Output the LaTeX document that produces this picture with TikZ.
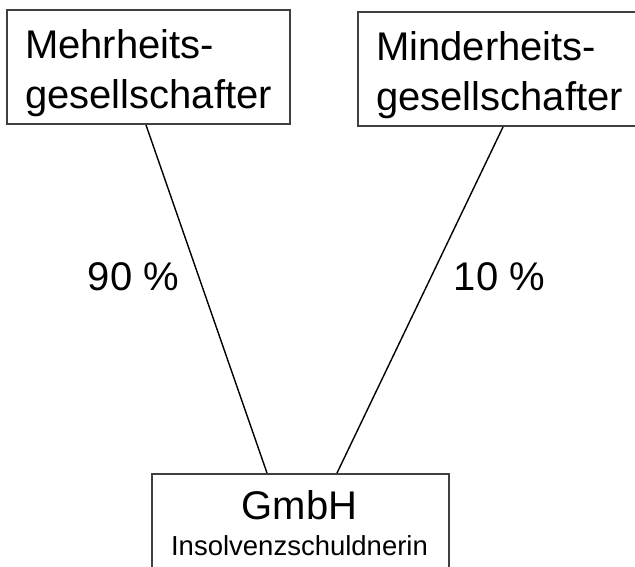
\documentclass[tikz,border=0pt]{standalone}
\usepackage{fontspec}
\setmainfont{Liberation Sans}
\usetikzlibrary{positioning}
\begin{document}
\begin{tikzpicture}[x=0.5pt,y=-0.5pt,
        holder/.style={draw=black!75,line width=1pt,minimum width=141.5pt,minimum height=57pt,
            inner sep=0pt,align=left,font=\fontsize{20}{25}\selectfont},
        debtor/.style={draw=black!75,line width=1pt,minimum width=148.5pt,minimum height=50pt,inner sep=0pt},
        stake/.style={line width=0.7pt},
        quota/.style={anchor=base,inner sep=0pt,font=\fontsize{20}{24}\selectfont}]
        % Page size
        \useasboundingbox (0,0) rectangle (635,566);
        \clip (0,0) rectangle (635,566);

        % Shareholders
        \node[holder,anchor=north west] (mehr) at (6,9) {\rule{0pt}{20.5pt}Mehrheits-\\gesellschafter};
        \node[holder,anchor=north west] (minder) at (357,11) {\rule{0pt}{20.5pt}Minderheits-\\gesellschafter};

        % The company
        \node[debtor,anchor=north west] (gmbh) at (151,473) {};
        \node[quota] (gmbhname) at (299.5,519) {GmbH};
        \node[anchor=base,inner sep=0pt,font=\fontsize{13.75}{16}\selectfont] (gmbhrole) at (299.5,555) {Insolvenzschuldnerin};

        % Shares
        \draw[stake] ([xshift=-1.25pt]mehr.south) -- ([xshift=-16.75pt]gmbh.north);
        \draw[stake] ([xshift=1.75pt]minder.south) -- ([xshift=18.25pt]gmbh.north);
        \node[quota] (share90) at (133.5,290) {90 \%};
        \node[quota] (share10) at (499.5,290) {10 \%};
    \end{tikzpicture}
\end{document}
